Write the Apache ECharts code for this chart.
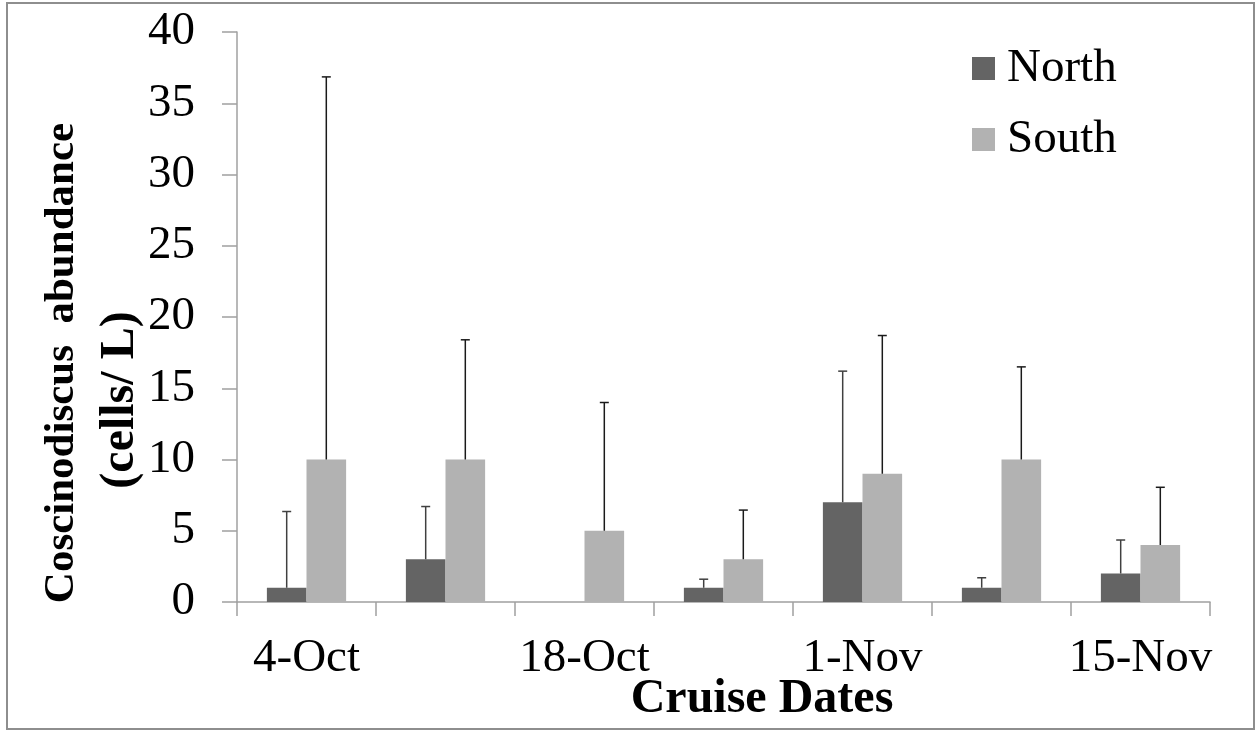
<!DOCTYPE html>
<html>
<head>
<meta charset="utf-8">
<script src="https://cdn.jsdelivr.net/npm/echarts@6/dist/echarts.min.js"></script>
<style>
html,body{margin:0;padding:0;background:#fff;}
#chart{width:1258px;height:731px;}
</style>
</head>
<body>
<div id="chart"></div>
<script>
const categories = ['4-Oct', '11-Oct', '18-Oct', '25-Oct', '1-Nov', '8-Nov', '15-Nov'];
const northValues = [1, 3, null, 1, 7, 1, 2];
const northErrTop = [6.35, 6.7, null, 1.6, 16.2, 1.7, 4.35];
const southValues = [10, 10, 5, 3, 9, 10, 4];
const southErrTop = [36.85, 18.4, 14.0, 6.45, 18.7, 16.5, 8.05];
const yTicks = [0, 5, 10, 15, 20, 25, 30, 35, 40];

const FONT = "'Liberation Serif', 'Times New Roman', serif";
const chart = echarts.init(document.getElementById('chart'));

function errData(vals, tops) {
  const out = [];
  vals.forEach((v, i) => {
    if (v !== null && tops[i] !== null) out.push([i, v, tops[i]]);
  });
  return out;
}

function errRenderer(sign, color) {
  return function (params, api) {
    const base = api.coord([api.value(0), api.value(1)]);
    const top = api.coord([api.value(0), api.value(2)]);
    const w = api.size([1, 0])[0];
    const x = base[0] + sign * w * 0.1425;
    const cap = 4.5;
    return {
      type: 'group',
      children: [
        { type: 'line', shape: { x1: x, y1: base[1], x2: x, y2: top[1] }, style: { stroke: color, lineWidth: 1.5 } },
        { type: 'line', shape: { x1: x - cap, y1: top[1], x2: x + cap, y2: top[1] }, style: { stroke: color, lineWidth: 1.5 } }
      ]
    };
  };
}

const option = {
  animation: false,
  backgroundColor: '#ffffff',
  grid: { left: 237, right: 48, top: 32, bottom: 129, containLabel: false },
  legend: {
    orient: 'vertical',
    left: 967,
    top: 40,
    icon: 'rect',
    itemWidth: 23,
    itemHeight: 23,
    itemGap: 24,
    textStyle: { fontFamily: FONT, fontSize: 47, color: '#000', lineHeight: 47, padding: [0, 0, 0, 7] },
    data: ['North', 'South']
  },
  xAxis: {
    type: 'category',
    data: categories,
    boundaryGap: true,
    axisLine: { lineStyle: { color: '#a0a0a0', width: 1.5 } },
    axisTick: { show: true, interval: 0, length: 14, inside: false, lineStyle: { color: '#a0a0a0', width: 1.5 } },
    axisLabel: { interval: 1, margin: 33, fontFamily: FONT, fontSize: 47, color: '#000' },
    splitLine: { show: false }
  },
  yAxis: {
    type: 'value',
    min: 0,
    max: 40,
    interval: 5,
    axisLine: { show: true, lineStyle: { color: '#a0a0a0', width: 1.5 } },
    axisTick: { show: true, length: 15, lineStyle: { color: '#a0a0a0', width: 1.5 } },
    axisLabel: {
      margin: 42, fontFamily: FONT, fontSize: 47, color: '#000',
      formatter: function (v) { return yTicks.indexOf(v) >= 0 ? String(v) : ''; }
    },
    splitLine: { show: false }
  },
  series: [
    {
      name: 'North', type: 'bar', data: northValues,
      barGap: '0%', barCategoryGap: '43%',
      itemStyle: { color: '#646464' }
    },
    {
      name: 'South', type: 'bar', data: southValues,
      barGap: '0%', barCategoryGap: '43%',
      itemStyle: { color: '#b2b2b2' }
    },
    {
      name: 'North err', type: 'custom', data: errData(northValues, northErrTop),
      renderItem: errRenderer(-1, '#404040'), z: 5, silent: true
    },
    {
      name: 'South err', type: 'custom', data: errData(southValues, southErrTop),
      renderItem: errRenderer(1, '#1a1a1a'), z: 5, silent: true
    }
  ],
  graphic: [
    {
      type: 'rect', silent: true, z: -1,
      shape: { x: 7, y: 3, width: 1247, height: 726 },
      style: { fill: 'none', stroke: '#8e8e8e', lineWidth: 2 }
    },
    {
      type: 'text', x: 62, y: 363, rotation: Math.PI / 2,
      style: { text: 'Coscinodiscus  abundance', font: 'bold 43px ' + FONT, fill: '#000', textAlign: 'center', textVerticalAlign: 'middle' }
    },
    {
      type: 'text', x: 121, y: 400, rotation: Math.PI / 2,
      style: { text: '(cells/ L)', font: 'bold 48px ' + FONT, fill: '#000', textAlign: 'center', textVerticalAlign: 'middle' }
    },
    {
      type: 'text', x: 762, y: 700,
      style: { text: 'Cruise Dates', font: 'bold 48px ' + FONT, fill: '#000', textAlign: 'center', textVerticalAlign: 'middle' }
    }
  ]
};
chart.setOption(option);
</script>
</body>
</html>
